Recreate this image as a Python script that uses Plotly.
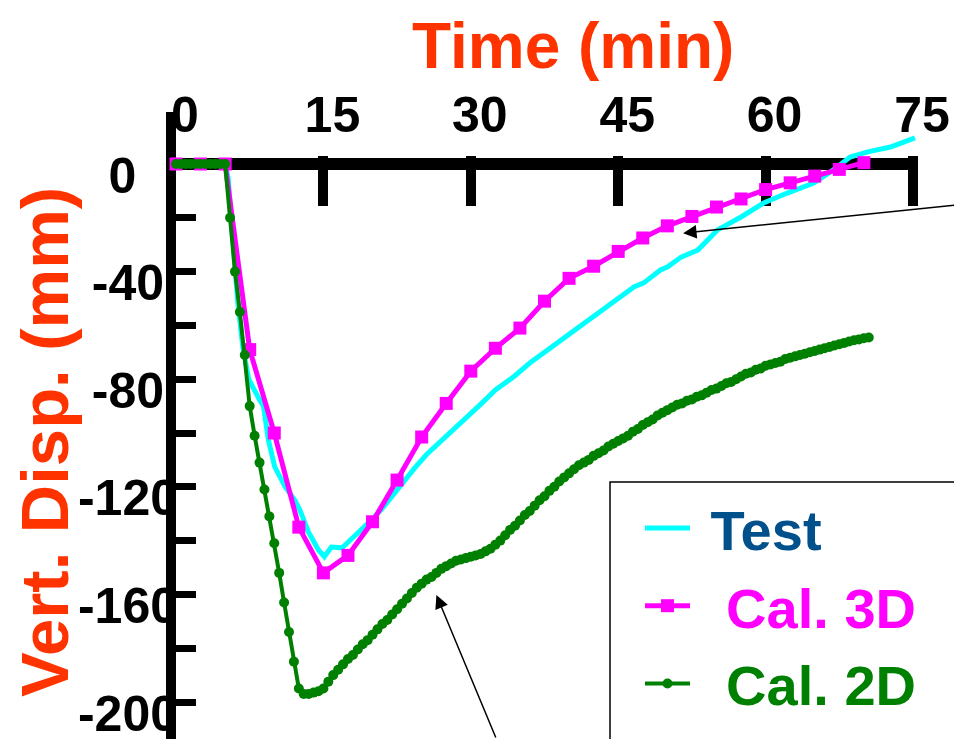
import plotly.graph_objects as go

# ---------------- data ----------------
test_t = [0, 1, 2, 3, 4, 5, 5.3, 5.8, 6.3, 6.8, 7.4, 8.4, 8.9, 9.4, 10.05, 11.1, 12.1, 12.6,
          13.5, 14.5, 15.1, 15.8, 16.9, 17.4, 18.6, 19.9, 21.0, 21.9, 23.0, 24.3, 25.5, 27.3,
          28.5, 30.0, 31.1, 32.5, 34.4, 36.0, 37.9, 39.0, 40.5, 42.9, 45.3, 46.6, 47.6, 49.3,
          50.0, 51.4, 53.1, 55.1, 57.5, 59.8, 62.2, 64.9, 66.9, 68.6, 70.4, 72.7, 75.2]
test_d = [0, 0, 0, 0, 0, 0, -5, -30, -52, -68, -80, -87, -90, -102.6, -112.6, -120, -125, -128.6,
          -137, -143.5, -146, -142.4, -142.7, -141, -137, -132.3, -128, -123.8, -118.5, -113, -108, -102,
          -97.5, -92.6, -89, -84, -79, -74, -69, -66, -61.7, -55.4, -49.4, -45.7, -44.2, -39.4,
          -38.3, -34.6, -32, -24.5, -19.7, -14.5, -10.8, -7.1, -2.2, 2.6, 4.5, 6.3, 9.7]

cal3d_t = [0, 2.5, 5, 7.5, 10, 12.5, 15, 17.5, 20, 22.5, 25, 27.5, 30, 32.5, 35, 37.5, 40,
           42.5, 45, 47.5, 50, 52.5, 55, 57.5, 60, 62.5, 65, 67.5, 70]
cal3d_d = [0, 0, 0, -69, -100, -135, -152, -145.5, -133, -117.5, -101.5, -89, -77, -68.5, -61,
           -51, -42.5, -38, -32.5, -27.5, -23, -19.5, -16, -13, -9.5, -7, -4.5, -2, 0.5]

cal2d_t = [0.0, 0.5, 1.0, 1.5, 2.0, 2.5, 3.0, 3.5, 4.0, 4.5, 5.0, 5.5, 6.0, 6.5, 7.0, 7.5, 8.0,
           8.5, 9.0, 9.5, 10.0, 10.5, 11.0, 11.5, 12.0, 12.5, 13.0, 13.5, 14.0, 14.5, 15.0, 15.5,
           16.0, 16.5, 17.0, 17.5, 18.0, 18.5, 19.0, 19.5, 20.0, 20.5, 21.0, 21.5, 22.0, 22.5,
           23.0, 23.5, 24.0, 24.5, 25.0, 25.5, 26.0, 26.5, 27.0, 27.5, 28.0, 28.5, 29.0, 29.5,
           30.0, 30.5, 31.0, 31.5, 32.0, 32.5, 33.0, 33.5, 34.0, 34.5, 35.0, 35.5, 36.0, 36.5,
           37.0, 37.5, 38.0, 38.5, 39.0, 39.5, 40.0, 40.5, 41.0, 41.5, 42.0, 42.5, 43.0, 43.5,
           44.0, 44.5, 45.0, 45.5, 46.0, 46.5, 47.0, 47.5, 48.0, 48.5, 49.0, 49.5, 50.0, 50.5,
           51.0, 51.5, 52.0, 52.5, 53.0, 53.5, 54.0, 54.5, 55.0, 55.5, 56.0, 56.5, 57.0, 57.5,
           58.0, 58.5, 59.0, 59.5, 60.0, 60.5, 61.0, 61.5, 62.0, 62.5, 63.0, 63.5, 64.0, 64.5,
           65.0, 65.5, 66.0, 66.5, 67.0, 67.5, 68.0, 68.5, 69.0, 69.5, 70.0, 70.5]
cal2d_d = [0, 0, 0, 0, 0, 0, 0, 0, 0, 0, 0, -20, -40, -55, -71, -90, -101,
           -111, -121, -131, -141, -152, -163, -174, -185, -195, -197, -197, -196.5, -196, -195, -192.5,
           -190, -188, -186, -184, -182.5, -180.5, -178.5, -177, -175, -173, -171, -169.5, -167.5, -165.5,
           -163.5, -161.5, -159.5, -157.5, -156, -154.5, -153.5, -152, -150.5, -149.5, -148.5, -147.5, -147, -146.5,
           -146, -145.5, -145, -144, -143, -141.5, -140, -138, -136, -134.5, -132.5, -130.5, -129, -127,
           -125, -123.5, -121.5, -120, -118, -116.5, -115, -113.5, -112, -111, -110, -108.5, -107.5, -106.5,
           -105, -104, -103, -102, -101, -99.5, -98.5, -97, -96, -95, -93.5, -92.5, -91.5, -90.5,
           -89.5, -89, -88, -87.5, -86.5, -86, -85, -84, -83.5, -82.5, -81.5, -81, -80, -79,
           -78, -77.5, -76.5, -76, -75, -74.5, -74, -73.5, -72.5, -72, -71.5, -71, -70.5, -70,
           -69.5, -69, -68.5, -68, -67.5, -67, -66.5, -66, -65.5, -65.2, -64.8, -64.5]

x_ticks = [0, 15, 30, 45, 60, 75]
y_ticks = [0, -40, -80, -120, -160, -200]
y_ticktext = ["0\u00a0\u00a0\u00a0", "-40\u00a0", "-80\u00a0", "-120", "-160", "-200"]
y_minor = [-20, -60, -100, -140, -180]

FONT = "Liberation Sans, Arial, sans-serif"
ORANGE = "#FF3300"

fig = go.Figure()
fig.add_trace(go.Scatter(x=test_t, y=test_d, mode="lines",
                         name="<span style='color:#00508C'>\u00a0Test</span>",
                         line=dict(color="#00FFFF", width=5), legendgroup="a", cliponaxis=False))
fig.add_trace(go.Scatter(x=cal3d_t, y=cal3d_d, mode="lines+markers",
                         name="<span style='color:#FF00FF'>\u00a0\u00a0Cal. 3D</span>",
                         line=dict(color="#FF00FF", width=5),
                         marker=dict(symbol="square", size=13, color="#FF00FF"),
                         legendgroup="b", cliponaxis=False))
fig.add_trace(go.Scatter(x=cal2d_t, y=cal2d_d, mode="lines+markers",
                         name="<span style='color:#008000'>\u00a0\u00a0Cal. 2D</span>",
                         line=dict(color="#008000", width=4),
                         marker=dict(symbol="circle", size=10, color="#008000"),
                         legendgroup="c", cliponaxis=False))

# page body adds an 8px offset; positions below are in screenshot pixels
OFF = 8
L, R, T, B = 176, 918, 112, 739
W, H = R - L, B - T
X0 = 176            # screen px of t = 0
XSCALE = (913 - X0) / 75.0
x_end = (R - X0) / XSCALE
Y0 = 164            # screen px of d = 0
YSCALE = (702 - 164) / 200.0
y_top = (Y0 - T) / YSCALE
y_bot = -(B - Y0) / YSCALE


def px(sx):
    return (sx - L) / W


def py(sy):
    return (B - sy) / H


fig.update_layout(
    width=962 - OFF, height=739 - OFF,
    margin=dict(l=L - OFF, r=962 - R, t=T - OFF, b=0, autoexpand=False),
    paper_bgcolor="white", plot_bgcolor="white",
    showlegend=True,
    legend=dict(x=px(640), y=py(485), xanchor="left", yanchor="top",
                bgcolor="rgba(0,0,0,0)", borderwidth=0, tracegroupgap=2, itemwidth=45,
                font=dict(family=FONT, size=56, weight="bold")),
    xaxis=dict(range=[0, x_end], domain=[0, 1], side="top", anchor="free",
               position=1 - (Y0 - T) / H, layer="below traces",
               showline=True, linewidth=12, linecolor="black",
               ticks="inside", ticklen=36, tickwidth=10, tickcolor="black",
               tickvals=x_ticks, ticklabelshift=9, ticklabelstandoff=6,
               tickfont=dict(family=FONT, size=50, color="black", weight="bold"),
               showgrid=False, zeroline=False, automargin=False),
    xaxis2=dict(range=[0, x_end], domain=[0, 1], side="top", anchor="free", overlaying="x",
                position=1 - (Y0 - T) / H, showline=False, layer="below traces",
                ticks="outside", ticklen=8, tickwidth=10, tickcolor="black",
                tickvals=x_ticks[1:], showticklabels=False,
                showgrid=False, zeroline=False, automargin=False),
    yaxis=dict(range=[y_bot, y_top], showline=True, linewidth=10, linecolor="black",
               layer="below traces",
               ticks="inside", ticklen=20, tickwidth=7, tickcolor="black",
               tickvals=y_ticks, ticktext=y_ticktext, ticklabelshift=11, ticklabelstandoff=-22,
               ticklabeloverflow="allow",
               tickfont=dict(family=FONT, size=50, color="black", weight="bold"),
               minor=dict(tickvals=y_minor, ticks="inside", ticklen=20, tickwidth=7, tickcolor="black"),
               showgrid=False, zeroline=False, automargin=False),
    shapes=[dict(type="rect", xref="paper", yref="paper",
                 x0=px(610), x1=1.3, y0=-0.3, y1=py(482),
                 line=dict(color="black", width=1.5), fillcolor="rgba(0,0,0,0)", layer="below")],
    annotations=[
        dict(text="Time (min)", xref="paper", yref="paper", x=px(573), y=py(46),
             xanchor="center", yanchor="middle", showarrow=False,
             font=dict(family=FONT, size=64, color=ORANGE, weight="bold")),
        dict(text="Vert. Disp. (mm)", xref="paper", yref="paper", x=px(44), y=py(442),
             xanchor="center", yanchor="middle", showarrow=False, textangle=-90,
             font=dict(family=FONT, size=67, color=ORANGE, weight="bold")),
        dict(text="", x=51.6, y=-25.7, xref="x", yref="y", ax=320, ay=-28.6,
             showarrow=True, arrowhead=2, arrowsize=1.8, arrowwidth=1.5, arrowcolor="black", standoff=0),
        dict(text="", x=26.5, y=-160.2, xref="x", yref="y", ax=60, ay=165,
             showarrow=True, arrowhead=2, arrowsize=1.8, arrowwidth=1.5, arrowcolor="black", standoff=0),
    ],
)
# dummy trace to activate xaxis2
fig.add_trace(go.Scatter(x=[None], y=[None], xaxis="x2", showlegend=False, hoverinfo="skip"))

fig.write_html("out.html")
